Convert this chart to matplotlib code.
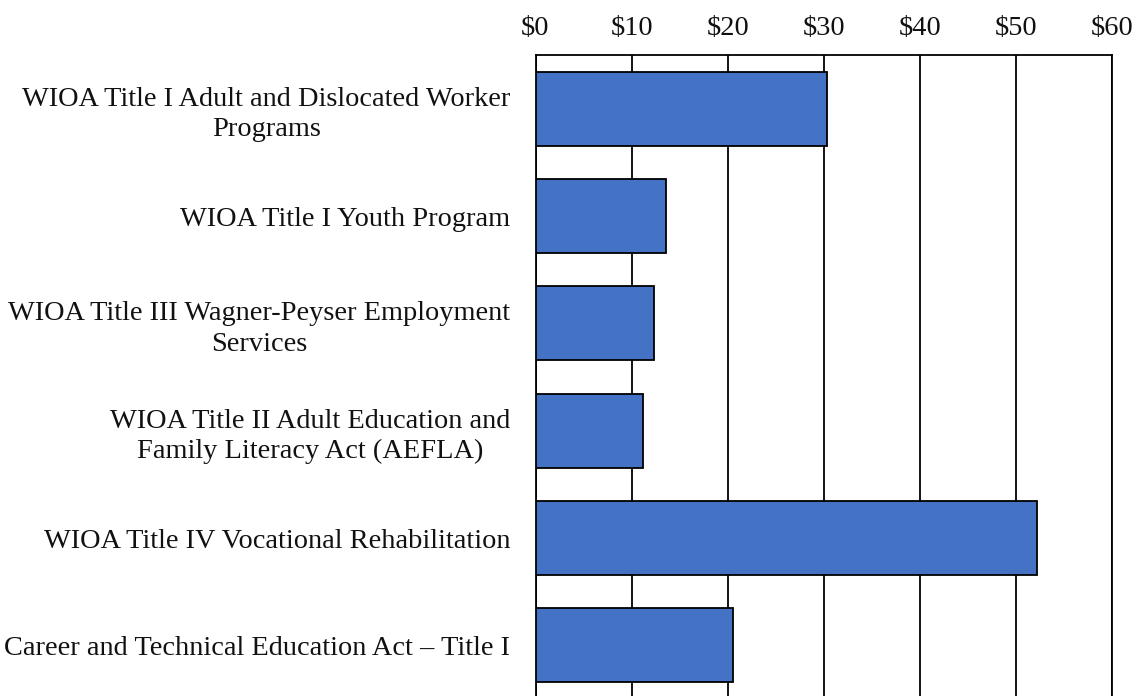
import matplotlib
matplotlib.use("Agg")
import matplotlib.pyplot as plt
from matplotlib.ticker import FuncFormatter

categories = [
    "WIOA Title I Adult and Dislocated Worker\nPrograms",
    "WIOA Title I Youth Program",
    "WIOA Title III Wagner-Peyser Employment\nServices",
    "WIOA Title II Adult Education and\nFamily Literacy Act (AEFLA)",
    "WIOA Title IV Vocational Rehabilitation",
    "Career and Technical Education Act \u2013 Title I",
]
values = [30.3, 13.6, 12.3, 11.2, 52.2, 20.6]
ticks = [0, 10, 20, 30, 40, 50, 60]

plt.rcParams['font.family'] = ['Liberation Serif', 'DejaVu Serif']

fig = plt.figure(figsize=(11.41, 6.96), dpi=100)
ax = fig.add_axes([535.5/1141, -3/696, (1112-535.5)/1141, (699-55)/696])

y = list(range(len(categories)))
ax.barh(y, values, height=0.687, color='#4472C4', edgecolor='black', linewidth=1.3, zorder=3)
ax.set_ylim(len(categories) - 0.5, -0.5)
ax.set_xlim(0, 60)
ax.set_xticks(ticks)
ax.xaxis.set_major_formatter(FuncFormatter(lambda v, p: f"${int(v)}"))
ax.xaxis.tick_top()
ax.tick_params(axis='x', length=0, pad=10, labelsize=20.4, labelcolor='#111111')
ax.tick_params(axis='y', length=0, pad=18, labelsize=20.4, labelcolor='#111111')
ax.set_yticks(y)
ax.set_yticklabels(categories, multialignment='center', linespacing=1.3)
ax.grid(axis='x', color='black', linewidth=1.3, zorder=0)
for s in ax.spines.values():
    s.set_color('black')
    s.set_linewidth(1.3)

fig.savefig("out.png", dpi=100)
